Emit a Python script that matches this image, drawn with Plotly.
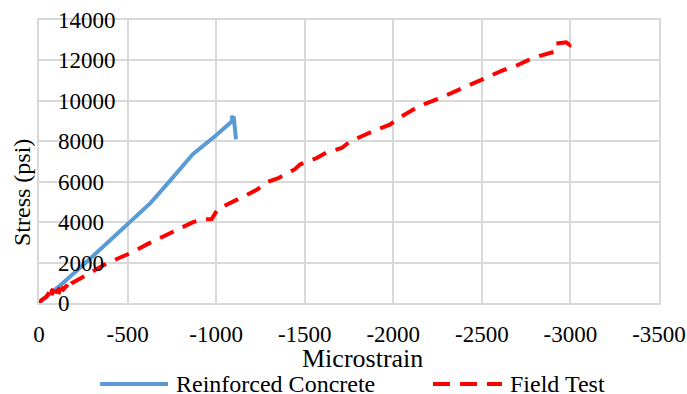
import plotly.graph_objects as go

# Reinforced concrete stress-strain record
rc_strain = [0, -50, -130, -265, -390, -512, -630, -750, -870, -1000, -1085,
             -1097, -1082, -1100, -1104, -1112]
rc_stress = [0, 350, 950, 2000, 3000, 4000, 4950, 6150, 7380, 8300, 8950,
             9230, 9140, 9150, 8700, 8100]

# Field test record (noisy near the origin)
ft_strain = [0, -15, -40, -60, -50, -80, -70, -100, -90, -120, -110, -140, -130,
             -160, -150, -185, -213, -280, -382, -450, -532, -620, -700, -796,
             -870, -918, -975, -1010, -1078, -1153, -1229, -1294, -1351, -1445,
             -1473, -1568, -1624, -1709, -1756, -1840, -1906, -1981, -2042,
             -2113, -2183, -2254, -2330, -2405, -2471, -2546, -2621, -2697,
             -2762, -2837, -2880, -2905, -2912, -2950, -2975, -2995, -3000, -3025]
ft_stress = [0, 150, 300, 550, 350, 700, 400, 800, 500, 750, 450, 850, 600,
             900, 700, 980, 1127, 1450, 1956, 2200, 2532, 2950, 3300, 3720,
             4000, 4140, 4150, 4650, 4965, 5263, 5596, 6008, 6176, 6620,
             6850, 7170, 7448, 7666, 7994, 8326, 8575, 8823, 9205,
             9568, 9866, 10100, 10397, 10645, 10924, 11220, 11520, 11750,
             12015, 12250, 12330, 12420, 12830, 12850, 12900, 12780, 12950, 13100]

x_ticks = [0, -500, -1000, -1500, -2000, -2500, -3000, -3500]
y_ticks = [0, 2000, 4000, 6000, 8000, 10000, 12000, 14000]

BLUE = "#5B9BD5"
RED = "#FF0000"
GRID = "#D9D9D9"
FAM = "Times New Roman"

W, H = 687, 394
L, R, T, B = 39, 28, 20, 91
PW, PH = W - L - R, H - T - B


def px_x(p):
    return (p - L) / PW


def px_y(p):
    return (H - B - p) / PH


def font(size):
    return dict(family=FAM, size=size)


fig = go.Figure()
fig.add_trace(go.Scatter(x=rc_strain, y=rc_stress, mode="lines",
                         name="Reinforced Concrete",
                         line=dict(color=BLUE, width=4), showlegend=False))
fig.add_trace(go.Scatter(x=ft_strain, y=ft_stress, mode="lines",
                         name="Field Test",
                         line=dict(color=RED, width=4, dash="15px,10px"),
                         showlegend=False))
# carrier for the right-facing stress labels
fig.add_trace(go.Scatter(x=[None], y=[None], yaxis="y2", showlegend=False,
                         hoverinfo="skip"))

fig.update_layout(
    width=W, height=H,
    margin=dict(l=L, r=R, t=T, b=B, autoexpand=False),
    paper_bgcolor="white", plot_bgcolor="white",
    font=dict(family=FAM, color="black"),
    xaxis=dict(range=[0, -3500], tickvals=x_ticks, ticktext=[str(v) for v in x_ticks],
               tickfont=font(23),
               showgrid=True, gridcolor=GRID, gridwidth=1.5, zeroline=False,
               showline=True, linecolor=GRID, linewidth=1.5, mirror=True,
               ticks="", ticklabelstandoff=10, automargin=False),
    yaxis=dict(range=[0, 14000], tickvals=y_ticks, showticklabels=False,
               showgrid=True, gridcolor=GRID, gridwidth=1.5, zeroline=False,
               showline=True, linecolor=GRID, linewidth=1.5, mirror=True,
               ticks="", automargin=False),
    yaxis2=dict(range=[0, 14000], tickvals=y_ticks, ticktext=[str(v) for v in y_ticks],
                tickfont=font(23),
                overlaying="y", side="right", anchor="free", position=px_x(57),
                showgrid=False, zeroline=False, showline=False, ticks="",
                automargin=False),
)

# axis titles
fig.add_annotation(text="Microstrain", xref="paper", yref="paper",
                   x=px_x(362), y=px_y(358), showarrow=False,
                   font=font(26), xanchor="center", yanchor="middle")
fig.add_annotation(text="Stress (psi)", xref="paper", yref="paper",
                   x=px_x(22), y=px_y(193), showarrow=False, textangle=-90,
                   font=font(24), xanchor="center", yanchor="middle")

# legend row
leg_y = px_y(384)
fig.add_shape(type="line", xref="paper", yref="paper",
              x0=px_x(100), x1=px_x(168), y0=leg_y, y1=leg_y,
              line=dict(color=BLUE, width=4))
fig.add_annotation(text="Reinforced Concrete", xref="paper", yref="paper",
                   x=px_x(174), y=leg_y, showarrow=False, xanchor="left",
                   yanchor="middle", font=font(24))
fig.add_shape(type="line", xref="paper", yref="paper",
              x0=px_x(433), x1=px_x(502), y0=leg_y, y1=leg_y,
              line=dict(color=RED, width=4, dash="17px,10px"))
fig.add_annotation(text="Field Test", xref="paper", yref="paper",
                   x=px_x(508), y=leg_y, showarrow=False, xanchor="left",
                   yanchor="middle", font=font(24))

fig.write_html("out.html")
